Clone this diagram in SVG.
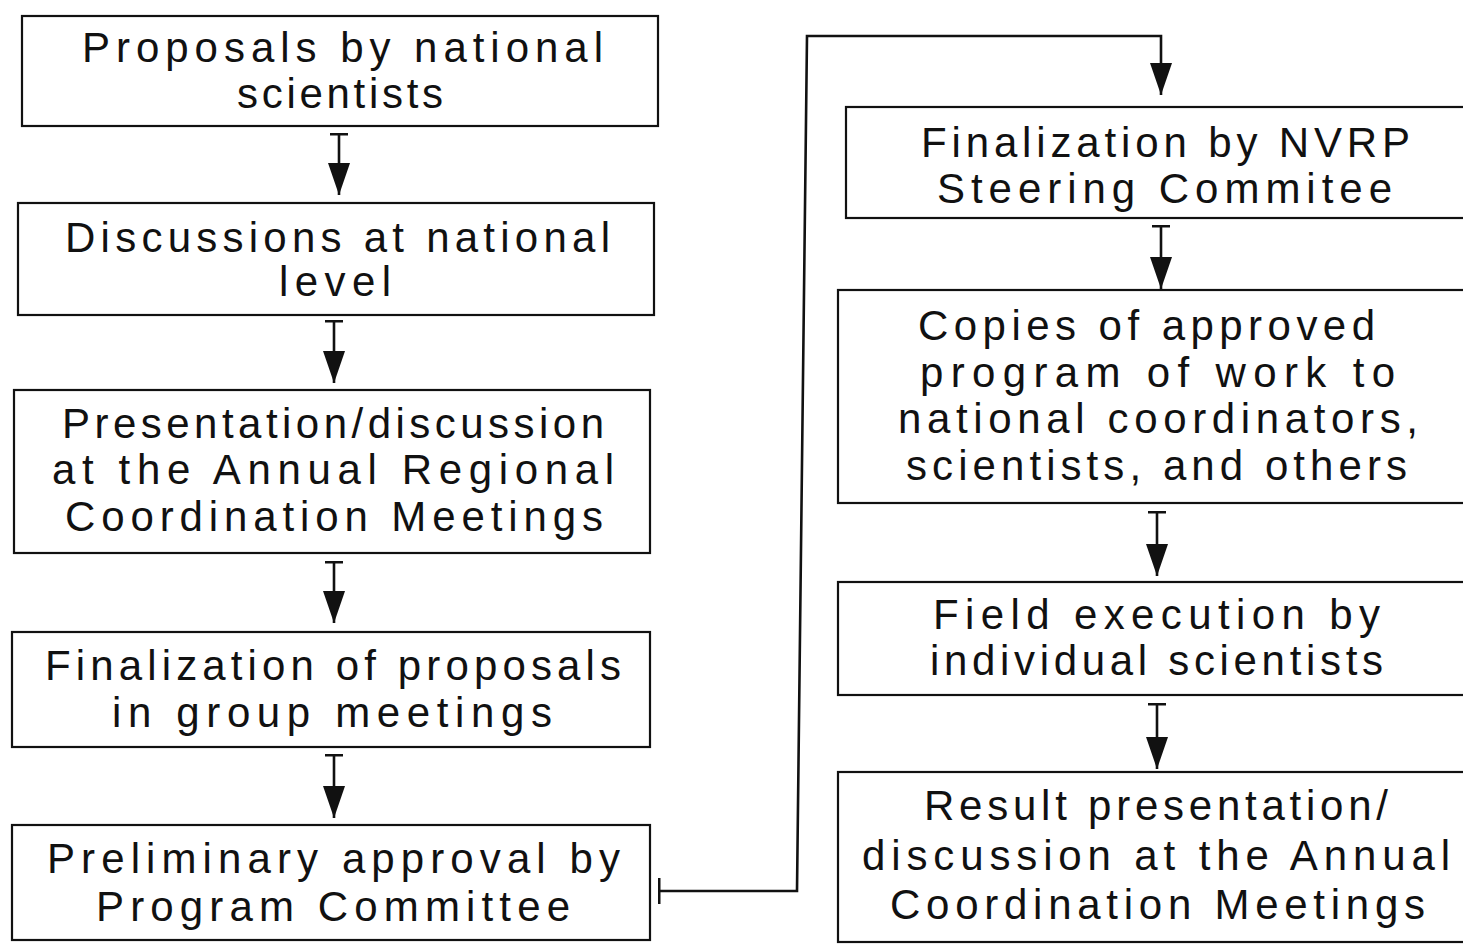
<svg xmlns="http://www.w3.org/2000/svg" width="1463" height="944" viewBox="0 0 1463 944">
<defs>
<style>
.box{fill:#fff;stroke:#111;stroke-width:2.2}
.t{font-family:"Liberation Sans","Arial",sans-serif;font-size:42px;fill:#111}
.c{fill:none;stroke:#111;stroke-width:2.6}
</style>
<marker id="arr" viewBox="0 0 32 22" refX="32" refY="11" markerWidth="32" markerHeight="22" markerUnits="userSpaceOnUse" orient="auto">
<path d="M0,0 L32,11 L0,22 Z" fill="#111"/>
</marker>
<marker id="tee" viewBox="0 0 3 18" refX="1.5" refY="9" markerWidth="3" markerHeight="18" markerUnits="userSpaceOnUse" orient="auto">
<rect x="0" y="0" width="3" height="18" fill="#111"/>
</marker>
<marker id="teeL" viewBox="0 0 3 26" refX="1.5" refY="13" markerWidth="3" markerHeight="26" markerUnits="userSpaceOnUse" orient="auto">
<rect x="0" y="0" width="3" height="26" fill="#111"/>
</marker>
</defs>
<rect width="1463" height="944" fill="#fff"/>

<g id="connectors">
<line class="c" x1="339" y1="134" x2="339" y2="195" marker-start="url(#tee)" marker-end="url(#arr)"/>
<line class="c" x1="334" y1="321" x2="334" y2="383" marker-start="url(#tee)" marker-end="url(#arr)"/>
<line class="c" x1="334" y1="562" x2="334" y2="623" marker-start="url(#tee)" marker-end="url(#arr)"/>
<line class="c" x1="334" y1="755" x2="334" y2="818" marker-start="url(#tee)" marker-end="url(#arr)"/>
<path class="c" d="M659,891 L797,891 L807,36 L1161,36 L1161,95" marker-start="url(#teeL)" marker-end="url(#arr)"/>
<line class="c" x1="1161" y1="226" x2="1161" y2="289" marker-start="url(#tee)" marker-end="url(#arr)"/>
<line class="c" x1="1157" y1="512" x2="1157" y2="576" marker-start="url(#tee)" marker-end="url(#arr)"/>
<line class="c" x1="1157" y1="704" x2="1157" y2="769" marker-start="url(#tee)" marker-end="url(#arr)"/>
</g>

<g id="n1">
<rect class="box" x="22" y="16" width="636" height="110"/>
<text class="t" x="82" y="62" textLength="521" lengthAdjust="spacing">Proposals by national</text>
<text class="t" x="237" y="108" textLength="206" lengthAdjust="spacing">scientists</text>
</g>
<g id="n2">
<rect class="box" x="18" y="203" width="636" height="112"/>
<text class="t" x="65" y="252" textLength="545" lengthAdjust="spacing">Discussions at national</text>
<text class="t" x="279" y="296" textLength="112" lengthAdjust="spacing">level</text>
</g>
<g id="n3">
<rect class="box" x="14" y="390" width="636" height="163"/>
<text class="t" x="62" y="438" textLength="542" lengthAdjust="spacing">Presentation/discussion</text>
<text class="t" x="52" y="484" textLength="562" lengthAdjust="spacing">at the Annual Regional</text>
<text class="t" x="65" y="531" textLength="538" lengthAdjust="spacing">Coordination Meetings</text>
</g>
<g id="n4">
<rect class="box" x="12" y="632" width="638" height="115"/>
<text class="t" x="45" y="680" textLength="576" lengthAdjust="spacing">Finalization of proposals</text>
<text class="t" x="112" y="727" textLength="440" lengthAdjust="spacing">in group meetings</text>
</g>
<g id="n5">
<rect class="box" x="12" y="825" width="638" height="115"/>
<text class="t" x="47" y="873" textLength="573" lengthAdjust="spacing">Preliminary approval by</text>
<text class="t" x="96" y="921" textLength="474" lengthAdjust="spacing">Program Committee</text>
</g>
<g id="n6">
<rect class="box" x="846" y="107" width="640" height="111"/>
<text class="t" x="921" y="157" textLength="489" lengthAdjust="spacing">Finalization by NVRP</text>
<text class="t" x="937" y="203" textLength="455" lengthAdjust="spacing">Steering Commitee</text>
</g>
<g id="n7">
<rect class="box" x="838" y="290" width="648" height="213"/>
<text class="t" x="918" y="340" textLength="457" lengthAdjust="spacing">Copies of approved</text>
<text class="t" x="920" y="387" textLength="475" lengthAdjust="spacing">program of work to</text>
<text class="t" x="898" y="433" textLength="520" lengthAdjust="spacing">national coordinators,</text>
<text class="t" x="906" y="480" textLength="501" lengthAdjust="spacing">scientists, and others</text>
</g>
<g id="n8">
<rect class="box" x="838" y="582" width="648" height="113"/>
<text class="t" x="933" y="629" textLength="447" lengthAdjust="spacing">Field execution by</text>
<text class="t" x="930" y="675" textLength="453" lengthAdjust="spacing">individual scientists</text>
</g>
<g id="n9">
<rect class="box" x="838" y="772" width="648" height="170"/>
<text class="t" x="924" y="820" textLength="464" lengthAdjust="spacing">Result presentation/</text>
<text class="t" x="862" y="870" textLength="588" lengthAdjust="spacing">discussion at the Annual</text>
<text class="t" x="890" y="919" textLength="535" lengthAdjust="spacing">Coordination Meetings</text>
</g>
</svg>
